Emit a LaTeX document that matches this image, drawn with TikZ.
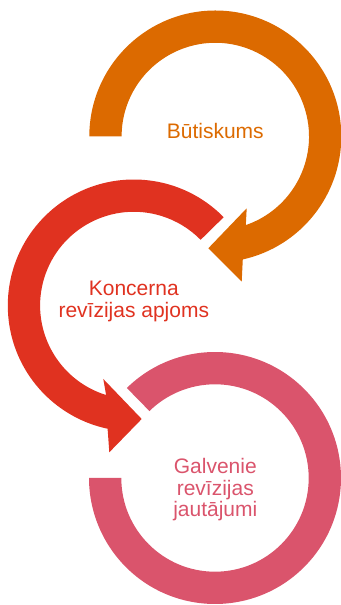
\documentclass[tikz,border=0pt]{standalone}
\usepackage{fontspec}
\setmainfont{Liberation Sans}
\usetikzlibrary{calc}
\definecolor{cOrange}{RGB}{220,106,0}
\definecolor{cRed}{RGB}{224,50,32}
\definecolor{cPink}{RGB}{218,84,108}
\begin{document}
\begin{tikzpicture}[x=1pt,y=1pt,
  lbl/.style={anchor=base, inner sep=0pt, font=\fontsize{21}{21.7}\selectfont}]
\useasboundingbox (0,0) rectangle (340,605);
\coordinate (O) at (215.3,468.5);
\coordinate (R) at (133.8,299.5);
\coordinate (P) at (215,127);
% orange ring with arrow
\fill[cOrange] ($(O)+(180:126)$) arc[start angle=180,end angle=-77.4,radius=126]
  -- (241.7,323.3) -- (208.3,356.7) -- (246.7,396.7)
  -- ($(O)+(-71:93.7)$) arc[start angle=-71,end angle=180,radius=93.7] -- cycle;
% red ring with arrow
\fill[cRed] ($(R)+(44.5:126)$) arc[start angle=44.5,end angle=258,radius=126]
  -- (109.3,152.7) -- (141.7,186) -- (103.3,226)
  -- ($(R)+(252.8:93.7)$) arc[start angle=252.8,end angle=44.5,radius=93.7] -- cycle;
% pink ring
\fill[cPink] ($(P)+(134.4:126)$) arc[start angle=134.4,end angle=-180,radius=126]
  -- ($(P)+(180:93.7)$) arc[start angle=-180,end angle=134.4,radius=93.7] -- cycle;
% labels
\node[lbl, text=cOrange] (t1) at (215.3,466.7) {Būtiskums};
\node[lbl, text=cRed] (t2a) at (133.8,309) {Koncerna};
\node[lbl, text=cRed] (t2b) at (133.8,287.3) {revīzijas apjoms};
\node[lbl, text=cPink] (t3a) at (215.3,131) {Galvenie};
\node[lbl, text=cPink] (t3b) at (215.3,109.3) {revīzijas};
\node[lbl, text=cPink] (t3c) at (215.3,88.3) {jautājumi};
\end{tikzpicture}
\end{document}
